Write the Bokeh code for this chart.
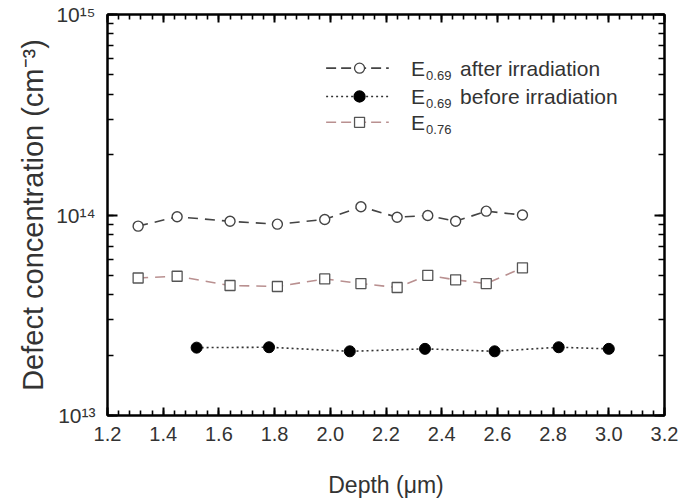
from bokeh.plotting import figure
from bokeh.models import (LinearAxis, LogAxis, Range1d, SingleIntervalTicker,
                          LogTicker, CustomJSTickFormatter)
from bokeh.core.properties import value
from bokeh.embed import file_html
from bokeh.resources import INLINE

# ---- data ----
depth_after = [1.31, 1.45, 1.64, 1.81, 1.98, 2.11, 2.24, 2.35, 2.45, 2.56, 2.69]
conc_after = [8.8e13, 9.8e13, 9.3e13, 9.0e13, 9.5e13, 1.10e14, 9.75e13, 9.95e13, 9.3e13, 1.045e14, 1.0e14]

depth_e076 = [1.31, 1.45, 1.64, 1.81, 1.98, 2.11, 2.24, 2.35, 2.45, 2.56, 2.69]
conc_e076 = [4.85e13, 4.95e13, 4.45e13, 4.40e13, 4.80e13, 4.55e13, 4.35e13, 5.0e13, 4.75e13, 4.55e13, 5.45e13]

depth_before = [1.52, 1.78, 2.07, 2.34, 2.59, 2.82, 3.00]
conc_before = [2.18e13, 2.19e13, 2.09e13, 2.15e13, 2.09e13, 2.19e13, 2.15e13]

legend_main = ["E", "E", "E"]
legend_sub = ["0.69", "0.69", "0.76"]
legend_rest = ["after irradiation", "before irradiation", ""]
legend_row_y = [5.4e14, 3.9e14, 2.9e14]
legend_line_x = [1.985, 2.21]
legend_marker_x = 2.105
legend_text_x = 2.29

FONT = "Liberation Sans"
TXT = "#333333"

p = figure(width=682, height=504,
           x_range=Range1d(1.2, 3.2), y_range=Range1d(1e13, 1e15),
           y_axis_type="log", output_backend="svg", toolbar_location=None,
           min_border_left=107, min_border_right=18, min_border_top=14,
           min_border_bottom=89)
p.grid.visible = False
p.outline_line_color = "black"
p.outline_line_width = 2
p.background_fill_color = "white"
p.border_fill_color = "white"

x_fmt = CustomJSTickFormatter(code="return tick.toFixed(1);")
y_fmt = CustomJSTickFormatter(code="""
const sup = {"0":"\u2070","1":"\u00b9","2":"\u00b2","3":"\u00b3","4":"\u2074",
             "5":"\u2075","6":"\u2076","7":"\u2077","8":"\u2078","9":"\u2079","-":"\u207b"};
const e = Math.round(Math.log10(tick));
return "10" + String(e).split("").map(c => sup[c]).join("");
""")
blank_fmt = CustomJSTickFormatter(code="return '';")


def style(ax, major_in, minor_in):
    ax.axis_line_color = "black"
    ax.axis_line_width = 2
    ax.major_tick_line_color = "black"
    ax.major_tick_line_width = 2
    ax.minor_tick_line_color = "black"
    ax.minor_tick_line_width = 1.6
    ax.major_tick_in = major_in
    ax.major_tick_out = 0
    ax.minor_tick_in = minor_in
    ax.minor_tick_out = 0
    ax.major_label_text_font = FONT
    ax.major_label_text_color = TXT
    ax.axis_label_text_font = FONT
    ax.axis_label_text_color = TXT
    ax.axis_label_text_font_style = "normal"


xa = p.xaxis[0]
xa.ticker = SingleIntervalTicker(interval=0.2, num_minor_ticks=5)
xa.formatter = x_fmt
style(xa, 8, 5)
xa.major_label_text_font_size = "20px"
xa.major_label_standoff = 11
xa.axis_label = "Depth (\u03bcm)"
xa.axis_label_text_font_size = "23px"
xa.axis_label_standoff = 28

ya = p.yaxis[0]
ya.ticker = LogTicker(num_minor_ticks=10)
ya.formatter = y_fmt
style(ya, 10, 6)
ya.major_label_text_font_size = "21px"
ya.major_label_standoff = 12
ya.axis_label = "Defect concentration (cm\u207b\u00b3)"
ya.axis_label_text_font_size = "29px"
ya.axis_label_standoff = 4

top = LinearAxis(ticker=SingleIntervalTicker(interval=0.2, num_minor_ticks=5),
                 formatter=blank_fmt)
style(top, 8, 5)
top.major_label_standoff = 0
p.add_layout(top, "above")

right = LogAxis(ticker=LogTicker(num_minor_ticks=10), formatter=blank_fmt)
style(right, 10, 6)
right.major_label_standoff = 0
p.add_layout(right, "right")

# ---- series ----
p.line(depth_after, conc_after, line_color="#444444", line_width=1.6, line_dash="10 7")
p.scatter(depth_after, conc_after, marker="circle", size=10, fill_color="white",
          line_color="#444444", line_width=1.4)

p.line(depth_e076, conc_e076, line_color="#b99090", line_width=1.6, line_dash="10 7")
p.scatter(depth_e076, conc_e076, marker="square", size=10, fill_color="white",
          line_color="#555555", line_width=1.3)

p.line(depth_before, conc_before, line_color="#333333", line_width=1.6, line_dash="2 3")
p.scatter(depth_before, conc_before, marker="circle", size=11, fill_color="black",
          line_color="black")

# ---- legend (drawn by hand to allow subscripts) ----
styles = [
    dict(color="#444444", dash="10 5", marker="circle", fill="white", mline="#444444"),
    dict(color="#333333", dash="2 3", marker="circle", fill="black", mline="black"),
    dict(color="#b99090", dash="10 5", marker="square", fill="white", mline="#555555"),
]
for yv, st in zip(legend_row_y, styles):
    p.line(legend_line_x, [yv, yv], line_color=st["color"], line_width=1.6,
           line_dash=st["dash"])
    p.scatter([legend_marker_x], [yv], marker=st["marker"],
              size=10 if st["fill"] == "white" else 11,
              fill_color=st["fill"], line_color=st["mline"], line_width=1.3)

p.text(x=[legend_text_x] * 3, y=legend_row_y, text=legend_main,
       text_font=value(FONT), text_font_size="21px", text_color=TXT,
       text_baseline="middle", text_align="left")
p.text(x=[legend_text_x] * 3, y=legend_row_y, text=legend_sub,
       text_font=value(FONT), text_font_size="13px", text_color=TXT,
       text_baseline="middle", text_align="left", x_offset=15, y_offset=7)
rest_y = [yv for yv, t in zip(legend_row_y, legend_rest) if t]
rest_t = [t for t in legend_rest if t]
p.text(x=[legend_text_x] * len(rest_t), y=rest_y, text=rest_t,
       text_font=value(FONT), text_font_size="21px", text_color=TXT,
       text_baseline="middle", text_align="left", x_offset=49)

open("out.html", "w").write(file_html(p, INLINE))
